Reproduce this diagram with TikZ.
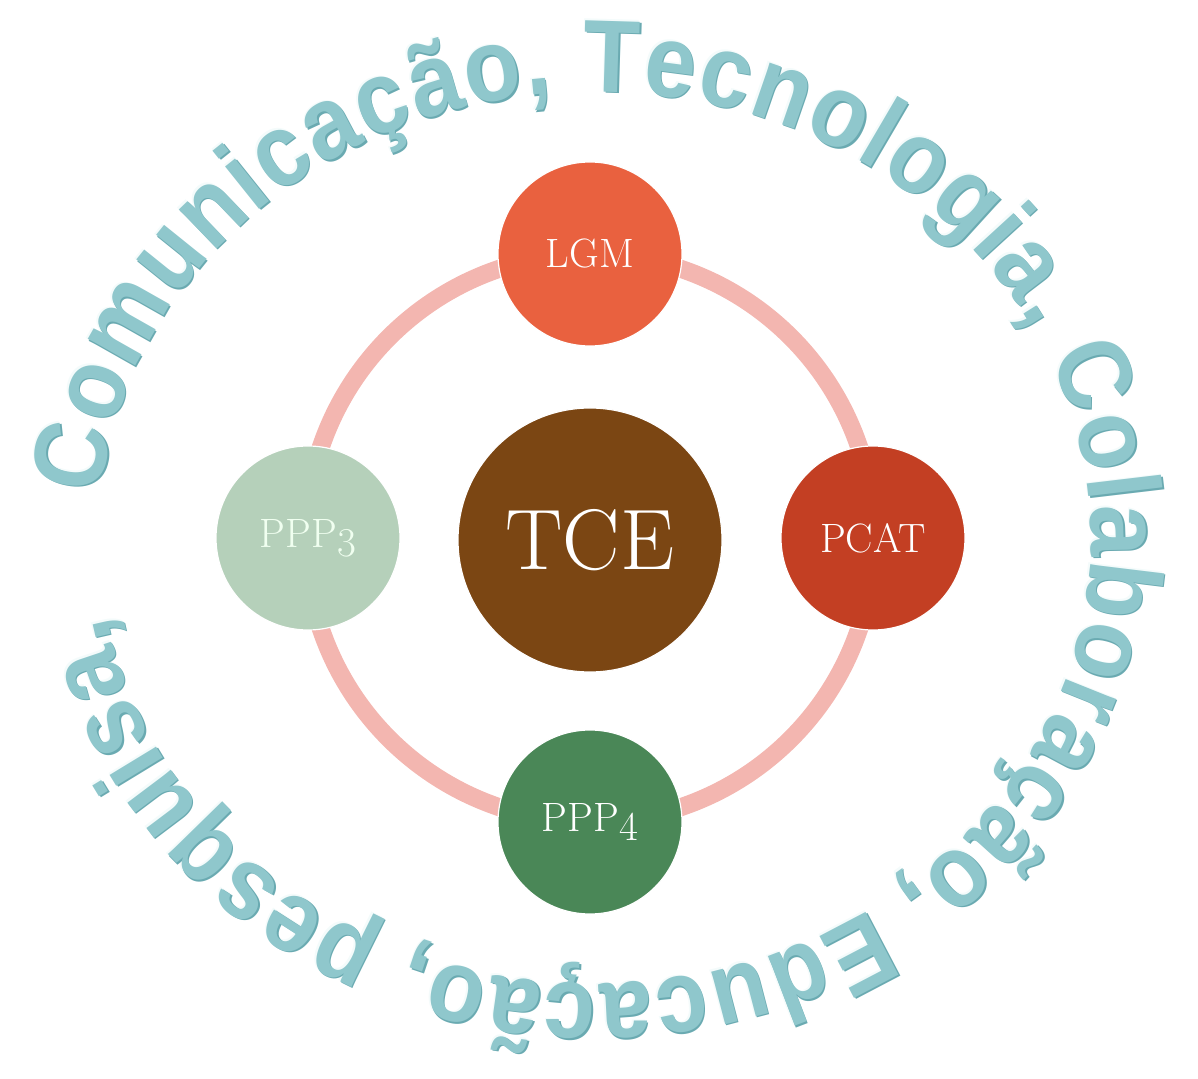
\documentclass[tikz,border=0pt]{standalone}
\usepackage{fontspec}
\usetikzlibrary{decorations.text}
\newfontfamily\arcfam[FakeStretch=0.9]{Liberation Sans}
\newcommand\arcstyle{\arcfam\bfseries\fontsize{103}{108}\selectfont}
\newcommand\osnum[1]{\raisebox{-0.22em}{#1}}
\definecolor{lgmred}{HTML}{E9613F}
\definecolor{pcatred}{HTML}{C33F23}
\definecolor{tcebrown}{HTML}{7B4613}
\definecolor{pppsage}{HTML}{B5D0BA}
\definecolor{pppgreen}{HTML}{4A8757}
\definecolor{ringpink}{HTML}{F3B6B0}
\definecolor{arcteal}{HTML}{8FC7CC}
\definecolor{arcdark}{HTML}{6AAAB1}
\definecolor{arclight}{HTML}{F4FBFB}
\tikzset{
  disc/.style={circle, fill=#1, draw=white, line width=1.2, minimum size=184,
    inner sep=0pt, text=white, font=\fontsize{41}{46}\selectfont},
  ring/.style={draw=ringpink, line width=18},
  arcword/.style={decorate, decoration={text along path, text align={fit to path},
    text={|\arcstyle\color{#1}|Comunicação, Tecnologia, Colaboração, Educação, pesquisa,}}}
}
\begin{document}
\begin{tikzpicture}[x=1pt,y=1pt]
\useasboundingbox (-590,-540) rectangle (608,538);
% ring behind the discs
\coordinate (mid) at (0,0);
\draw[ring] (mid) circle (284);
\node[disc=tcebrown, minimum size=264, font=\fontsize{86}{90}\selectfont] (tce) at (0,-2) {TCE};
\node[disc=lgmred] (lgm) at (0,284) {LGM};
\node[disc=pcatred] (pcat) at (283,0) {PCAT};
\node[disc=pppsage, text=white!94!green] (ppp3) at (-282,0) {PPP\osnum{3}};
\node[disc=pppgreen] (ppp4) at (0,-284) {PPP\osnum{4}};
% words round the outside
\coordinate (arcstart) at ([shift={(5,0)}]174.5:496 and 446);
\path[arcword=arclight] ([shift={(-1.5,1.5)}]arcstart) arc[start angle=174.5, end angle=-170, x radius=496, y radius=446];
\path[arcword=arcdark] ([shift={(1.5,-1.5)}]arcstart) arc[start angle=174.5, end angle=-170, x radius=496, y radius=446];
\path[arcword=arcteal] (arcstart) arc[start angle=174.5, end angle=-170, x radius=496, y radius=446];
\end{tikzpicture}
\end{document}
